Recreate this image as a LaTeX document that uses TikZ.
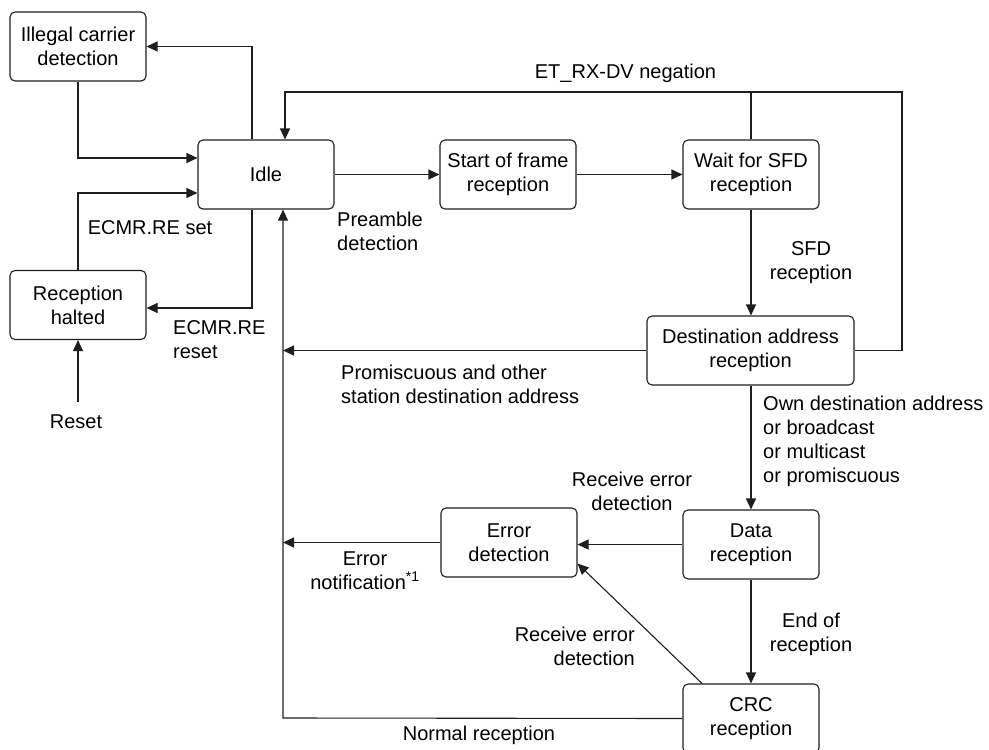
\documentclass[tikz,border=0pt]{standalone}
\usepackage{fontspec}
\setmainfont{Liberation Sans}
\usetikzlibrary{arrows.meta,calc}
\definecolor{linec}{RGB}{30,30,30}
\newcommand\diagfont{\fontsize{20}{24}\selectfont}
\begin{document}
\begin{tikzpicture}[x=1pt,y=-1pt,
  state/.style={draw=linec, line width=1.1pt, rounded corners=5pt,
    minimum width=136pt, minimum height=69pt, inner sep=0pt,
    align=center, font=\diagfont},
  lab/.style={inner sep=0pt, font=\diagfont},
  conn/.style={draw=linec, line width=1.1pt},
  arr/.style={conn, -{Triangle[length=11pt,width=10pt]}},
]
\useasboundingbox (0,0) rectangle (989,750);

% states
\node[state] (ill)  at (78,46.5)    {Illegal carrier\\detection};
\node[state] (idle) at (266,174.5)  {Idle};
\node[state] (halt) at (78,305)     {Reception\\halted};
\node[state] (sof)  at (508,174.5)  {Start of frame\\reception};
\node[state] (sfd)  at (751,174.5)  {Wait for SFD\\reception};
\node[state, minimum width=207pt] (dst) at (750.5,350.5) {Destination address\\reception};
\node[state] (err)  at (509,542.5)  {Error\\detection};
\node[state] (dat)  at (751,544.5)  {Data\\reception};
\node[state] (crc)  at (751,718.5)  {CRC\\reception};

% bend points
\coordinate (rst)   at (78,402);
\coordinate (loopR) at (902,92);
\coordinate (loopL) at (285,92);
\coordinate (busB)  at (283,718);

% idle side loops
\draw[arr] ([xshift=-14pt]idle.north) |- (ill.east);
\draw[arr] (ill.south) |- ([yshift=16.5pt]idle.west);
\draw[arr] (halt.north) |- ([yshift=-18.5pt]idle.west);
\draw[arr] ([xshift=-14pt]idle.south) |- ([yshift=-3pt]halt.east);
\draw[arr] (rst) -- (halt.south);

% main reception chain
\draw[arr] (idle.east) -- (sof.west);
\draw[arr] (sof.east) -- (sfd.west);
\draw[arr] (sfd.south) -- (sfd.south |- dst.north);
\draw[arr] (dst.south -| dat.north) -- (dat.north);
\draw[arr] (dat.south) -- (crc.north);
\draw[arr] (dat.west) -- (dat.west -| err.east);
\draw[arr] ([xshift=-49pt]crc.north) -- ([yshift=14pt]err.south east);

% ET_RX-DV negation loop
\draw[arr] (dst.east) -| (loopR) -- (loopL) -- (loopL |- idle.north);
\draw[conn] (sfd.north) -- (sfd.north |- loopR);

% return bus to idle
\draw[arr] (crc.west) -- (busB) -- (busB |- idle.south);
\draw[arr] (dst.west) -- (dst.west -| busB);
\draw[arr] (err.west) -- (err.west -| busB);

% transition labels
\node[lab] (lneg) at (625.5,73) {ET\_RX-DV negation};
\node[lab, align=left, anchor=west] (lpre) at (337,231.5) {Preamble\\detection};
\node[lab, align=center] (lsfd) at (811,263) {SFD\\reception};
\node[lab, align=left, anchor=west] (lprom) at (341,384) {Promiscuous and other\\station destination address};
\node[lab, align=left, anchor=west] (lown) at (763,441.5) {Own destination address\\or broadcast\\or multicast\\or promiscuous};
\node[lab, align=center] (lrx1) at (632,491) {Receive error\\detection};
\node[lab, align=center] (lnot) at (365,570.5) {Error\\notification\textsuperscript{*1}};
\node[lab, align=center] (lend) at (811,634.5) {End of\\reception};
\node[lab, align=right, anchor=east] (lrx2) at (635,646.5) {Receive error\\detection};
\node[lab] (lnorm) at (479,735) {Normal reception};
\node[lab] (lset) at (150,228) {ECMR.RE set};
\node[lab, align=left, anchor=west] (lreset) at (173,340) {ECMR.RE\\reset};
\node[lab] (lrst) at (76,422) {Reset};
\end{tikzpicture}
\end{document}
